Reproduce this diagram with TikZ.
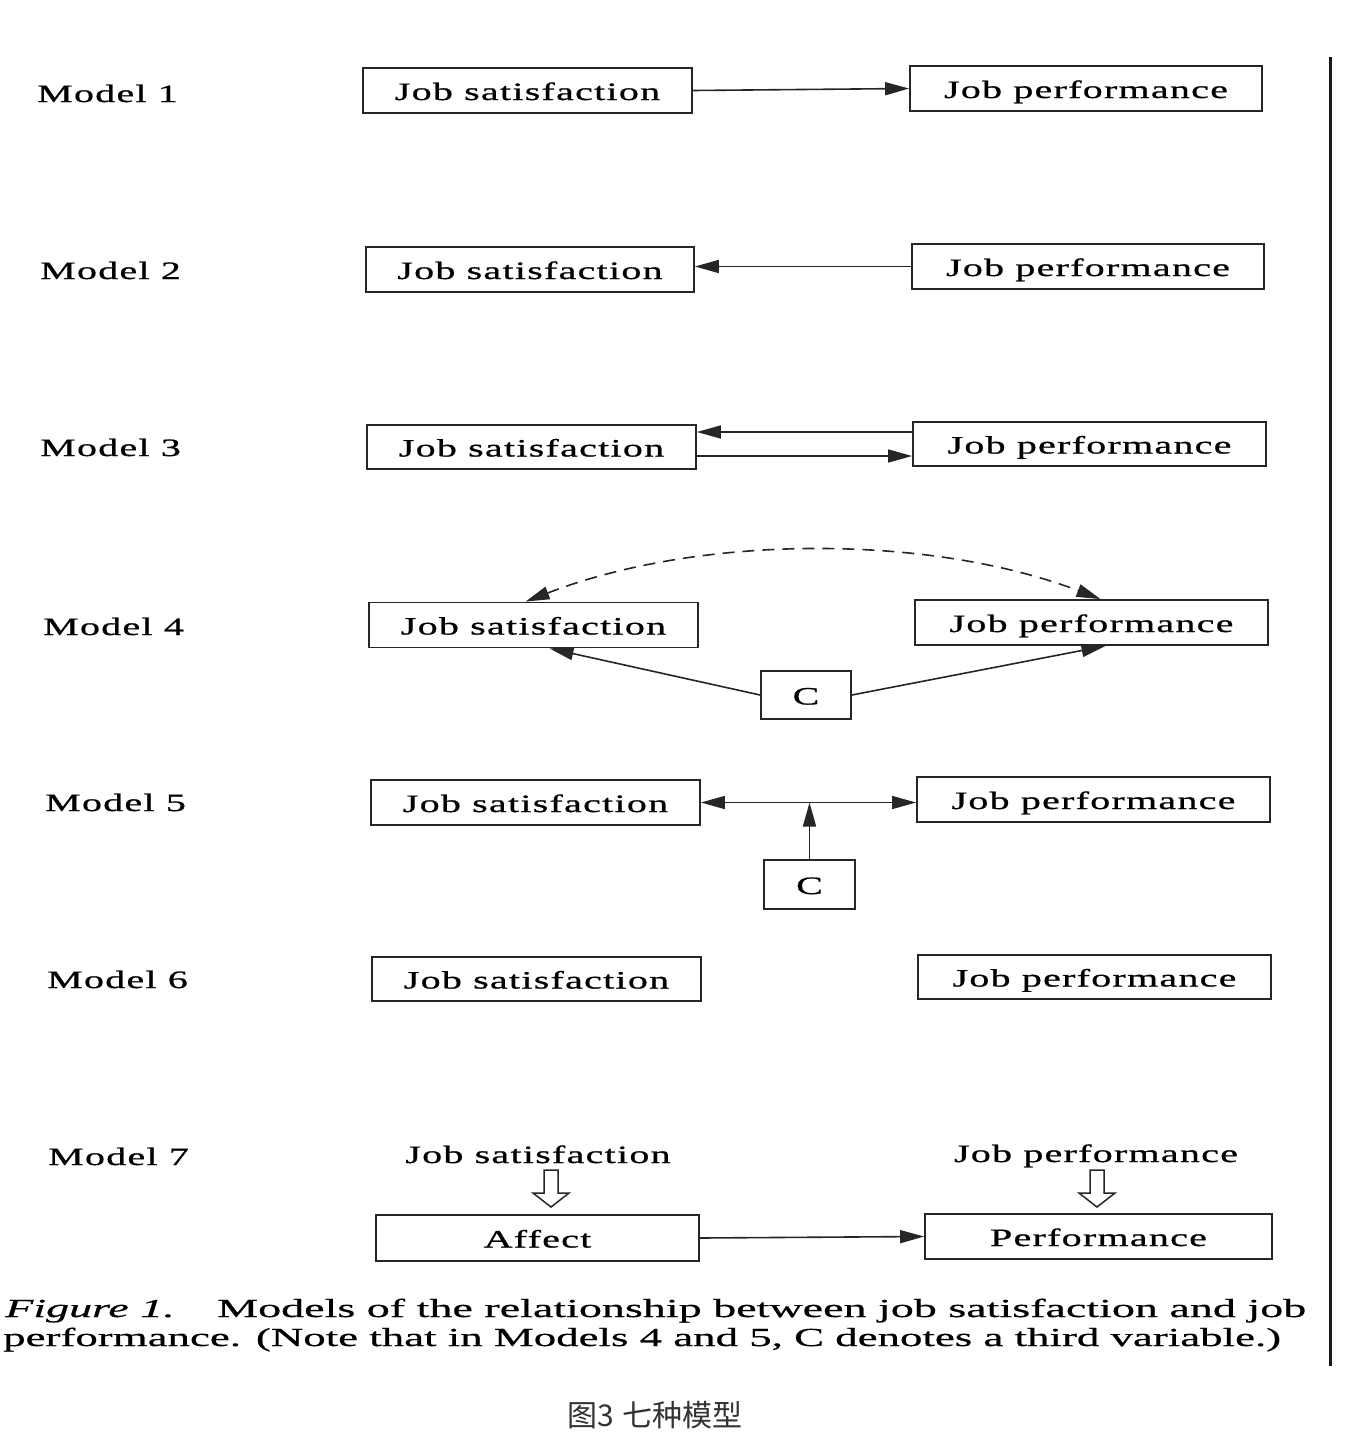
\documentclass[tikz,border=0pt]{standalone}
\usepackage{fontspec}
\setmainfont{Liberation Serif}[FakeStretch=1.6, FakeBold=0.8, LetterSpace=5]
\newfontfamily\capfont{Liberation Serif}[FakeStretch=1.5, FakeBold=0.6]
\newfontfamily\cjk{Noto Sans CJK SC}
\usetikzlibrary{arrows.meta,calc}
\begin{document}
\begin{tikzpicture}[x=1pt,y=-1pt,
  bx/.style={draw=black!85, line width=1.8pt, inner sep=0pt, minimum height=45pt, text height=19pt, text depth=0pt, font=\fontsize{25}{30}\selectfont},
  lbl/.style={anchor=base west, inner sep=0pt, font=\fontsize{25}{30}\selectfont},
  txt/.style={anchor=base, inner sep=0pt, font=\fontsize{25}{30}\selectfont},
  arr/.style={line width=1.6pt, draw=black!85, -{Triangle[length=24pt,width=13pt]}},
  darr/.style={line width=1.6pt, draw=black!85, {Triangle[length=24pt,width=13pt]}-{Triangle[length=24pt,width=13pt]}},
  hollow/.style={line width=1.5pt, draw=black!85, fill=white},
  captext/.style={anchor=base west, inner sep=0pt, font=\capfont\fontsize{26}{30}\selectfont}
]
\useasboundingbox (0,0) rectangle (1349,1452);
\fill[white] (0,0) rectangle (1349,1452);

% labels
\node[lbl] (m1) at (37,102) {Model 1};
\node[lbl] (m2) at (40,279) {Model 2};
\node[lbl] (m3) at (40,456) {Model 3};
\node[lbl] (m4) at (43,635) {Model 4};
\node[lbl] (m5) at (45,811) {Model 5};
\node[lbl] (m6) at (47,988) {Model 6};
\node[lbl] (m7) at (48,1165) {Model 7};

% Model 1
\node[bx, minimum width=329pt] (s1) at (527.5,90.5) {Job satisfaction};
\node[bx, minimum width=352pt] (p1) at (1086,88.5) {Job performance};
\draw[arr] (s1.east) -- (p1.west);

% Model 2
\node[bx, minimum width=328pt] (s2) at (530,269.5) {Job satisfaction};
\node[bx, minimum width=352pt] (p2) at (1088,266.5) {Job performance};
\draw[arr] (p2.west) -- (s2.east |- p2.west);

% Model 3
\node[bx, minimum width=329pt, minimum height=44pt] (s3) at (531.5,447) {Job satisfaction};
\node[bx, minimum width=353pt, minimum height=44pt] (p3) at (1089.5,444) {Job performance};
\coordinate (a3) at ([yshift=12pt]p3.west);
\coordinate (b3) at ([yshift=-9pt]s3.east);
\draw[arr] (a3) -- (a3 -| s3.east);
\draw[arr] (b3) -- (b3 -| p3.west);

% Model 4
\node[bx, minimum width=329pt] (s4) at (533.5,625) {Job satisfaction};
\node[bx, minimum width=353pt] (p4) at (1091.5,622.5) {Job performance};
\node[bx, minimum width=90pt, minimum height=48pt] (c4) at (806,695) {C};
\coordinate (d1) at ([xshift=-8pt]s4.north);
\coordinate (d2) at ([xshift=9pt]p4.north);
\draw[darr, dash pattern=on 12pt off 8pt] (d1) .. controls (700,534) and (930,534) .. (d2);
\draw[arr] (c4.west) -- ([xshift=16pt]s4.south);
\draw[arr] (c4.east) -- ([xshift=14pt]p4.south);

% Model 5
\node[bx, minimum width=329pt] (s5) at (535.5,802.5) {Job satisfaction};
\node[bx, minimum width=353pt] (p5) at (1093.5,799.5) {Job performance};
\node[bx, minimum width=91pt, minimum height=49pt] (c5) at (809.5,884.5) {C};
\draw[darr] (s5.east) -- (s5.east -| p5.west);
\draw[arr] (c5.north) -- (c5.north |- s5.east);

% Model 6
\node[bx, minimum width=329pt, minimum height=44pt] (s6) at (536.5,979) {Job satisfaction};
\node[bx, minimum width=353pt, minimum height=44pt] (p6) at (1094.5,977) {Job performance};

% Model 7
\node[txt] (t7s) at (538,1163) {Job satisfaction};
\node[txt] (t7p) at (1096,1162) {Job performance};
\node[bx, minimum width=323pt, minimum height=46pt] (a7) at (537.5,1238) {Affect};
\node[bx, minimum width=347pt] (f7) at (1098.5,1236.5) {Performance};
\draw[arr] (a7.east) -- (f7.west);
\coordinate (h1) at (551,1170);
\coordinate (h2) at (1097,1170);
\draw[hollow] (h1) ++(-7,0) -- ++(14,0) -- ++(0,23) -- ++(11,0) -- ++(-18,14) -- ++(-18,-14) -- ++(11,0) -- cycle;
\draw[hollow] (h2) ++(-7,0) -- ++(14,0) -- ++(0,23) -- ++(11,0) -- ++(-18,14) -- ++(-18,-14) -- ++(11,0) -- cycle;

% caption
\node[captext] (cap1) at (5,1317) {\scalebox{1.18}[1]{\textit{Figure 1.}\hspace{36pt}Models of the relationship between job satisfaction and job}};
\node[captext] (cap2) at (3,1346) {\scalebox{1.15}[1]{performance. (Note that in Models 4 and 5, C denotes a third variable.)}};

% right rule
\draw[line width=3pt, black!90] (1330,57) -- (1330,1366);

% chinese caption
\node[inner sep=0pt, text=black!80, font=\cjk\fontsize{30}{35}\selectfont] (cn) at (655,1415) {图3\hspace{8pt}七种模型};
\end{tikzpicture}
\end{document}
